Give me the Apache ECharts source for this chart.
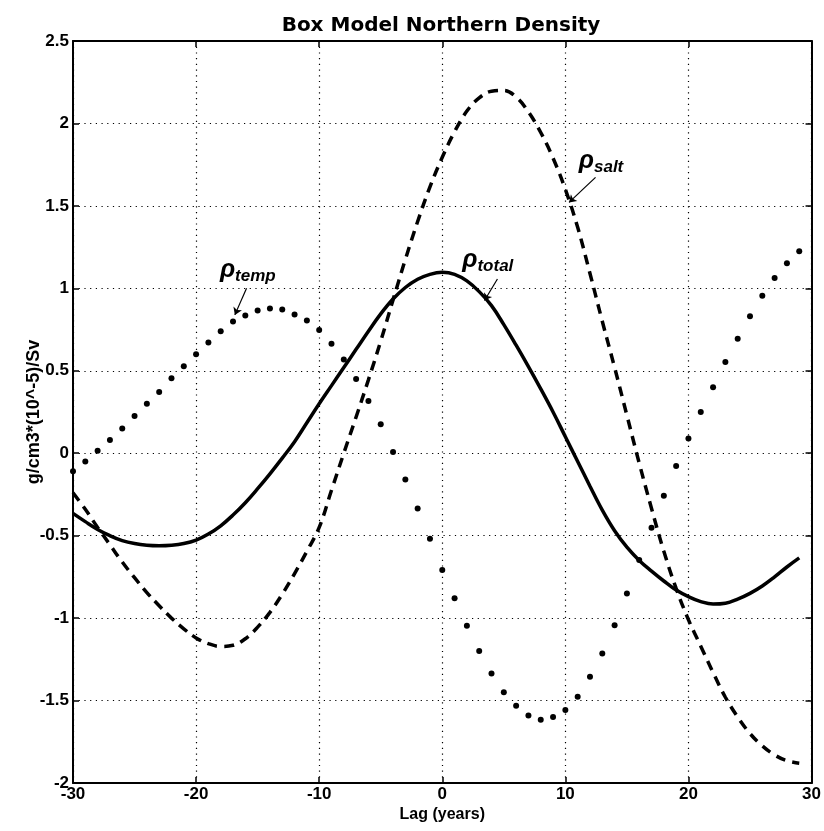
<!DOCTYPE html>
<html>
<head>
<meta charset="utf-8">
<script src="https://cdn.jsdelivr.net/npm/echarts@6/dist/echarts.min.js"></script>
<style>
html,body{margin:0;padding:0;background:#fff;}
#c{width:824px;height:831px;}
</style>
</head>
<body>
<div id="c"></div>
<script>
const lags = [-30,-29,-28,-27,-26,-25,-24,-23,-22,-21,-20,-19,-18,-17,-16,-15,-14,-13,-12,-11,-10,-9,-8,-7,-6,-5,-4,-3,-2,-1,0,1,2,3,4,5,6,7,8,9,10,11,12,13,14,15,16,17,18,19,20,21,22,23,24,25,26,27,28,29];

const rhoTotal = [-0.365,-0.415,-0.462,-0.50,-0.53,-0.548,-0.558,-0.561,-0.558,-0.548,-0.527,-0.49,-0.44,-0.375,-0.30,-0.215,-0.125,-0.03,0.07,0.185,0.30,0.41,0.52,0.63,0.74,0.845,0.935,1.005,1.055,1.085,1.097,1.085,1.045,0.98,0.895,0.78,0.655,0.525,0.39,0.25,0.10,-0.05,-0.20,-0.345,-0.47,-0.57,-0.65,-0.715,-0.775,-0.83,-0.87,-0.90,-0.915,-0.91,-0.885,-0.85,-0.805,-0.75,-0.69,-0.635];

const rhoSalt = [-0.24,-0.34,-0.45,-0.555,-0.66,-0.755,-0.845,-0.925,-1.0,-1.065,-1.12,-1.155,-1.172,-1.165,-1.125,-1.055,-0.965,-0.855,-0.73,-0.595,-0.45,-0.225,0.0,0.22,0.445,0.68,0.93,1.175,1.405,1.615,1.795,1.95,2.075,2.155,2.195,2.20,2.16,2.07,1.945,1.79,1.60,1.37,1.09,0.80,0.52,0.23,-0.06,-0.335,-0.595,-0.82,-1.01,-1.17,-1.33,-1.48,-1.60,-1.70,-1.775,-1.83,-1.865,-1.88];

const rhoTemp = [-0.11,-0.05,0.015,0.08,0.15,0.225,0.30,0.372,0.454,0.527,0.60,0.672,0.739,0.799,0.835,0.866,0.878,0.872,0.841,0.805,0.748,0.664,0.569,0.45,0.317,0.176,0.008,-0.159,-0.335,-0.519,-0.708,-0.88,-1.047,-1.20,-1.336,-1.449,-1.532,-1.59,-1.616,-1.60,-1.558,-1.477,-1.356,-1.215,-1.043,-0.85,-0.648,-0.452,-0.258,-0.078,0.09,0.25,0.40,0.553,0.694,0.83,0.955,1.063,1.152,1.225];

const xTicks = [-30,-20,-10,0,10,20,30];
const yTicks = [-2,-1.5,-1,-0.5,0,0.5,1,1.5,2,2.5];

const pairs = arr => lags.map((x,i)=>[x,arr[i]]);
const FONT = '"Liberation Sans", Arial, sans-serif';

const rich = {
  r:{fontFamily:FONT,fontSize:25,fontStyle:'italic',fontWeight:'bold',color:'#000',lineHeight:28},
  s:{fontFamily:FONT,fontSize:17,fontStyle:'italic',fontWeight:'bold',color:'#000',padding:[12,0,0,0],lineHeight:28}
};
function annot(coord,sub){
  return {coord:coord,symbol:'circle',symbolSize:2,itemStyle:{color:'rgba(0,0,0,0)'},
    label:{show:true,position:'inside',formatter:'{r|ρ}{s|'+sub+'}',rich:rich}};
}
function arrow(from,to){
  return [{coord:from},{coord:to}];
}
const arrowStyle = {color:'#000',width:1.2,type:'solid'};

const chart = echarts.init(document.getElementById('c'),null,{renderer:'canvas'});
const axisCommon = {
  axisLine:{show:true,onZero:false,lineStyle:{color:'#000',width:2}},
  axisTick:{show:true,inside:true,length:6,lineStyle:{color:'#000',width:1.5}},
};
chart.setOption({
  animation:false,
  backgroundColor:'#fff',
  title:{text:'Box Model Northern Density',left:436,top:11,textAlign:'center',
    textStyle:{fontFamily:'"DejaVu Sans", sans-serif',fontSize:20,fontWeight:'bold',color:'#000'}},
  grid:{left:73,right:9,top:41,bottom:48,containLabel:false},
  xAxis:[
    Object.assign({type:'value',min:-30,max:30,interval:10,position:'bottom',
      name:'Lag (years)',nameLocation:'middle',nameGap:24,nameMoveOverlap:false,
      nameTextStyle:{fontFamily:FONT,fontSize:16,fontWeight:'bold',color:'#000'},
      axisLabel:{fontFamily:FONT,fontSize:17,fontWeight:'bold',color:'#000',margin:3,
        formatter:v=>xTicks.includes(v)?String(v):''},
      splitLine:{show:true,lineStyle:{color:'#000',width:1.2,type:[1.2,4.5]}}},axisCommon),
    Object.assign({type:'value',min:-30,max:30,interval:10,position:'top',
      axisLabel:{show:false},splitLine:{show:false}},axisCommon)
  ],
  yAxis:[
    Object.assign({type:'value',min:-2,max:2.5,interval:0.5,position:'left',
      name:'g/cm3*(10^-5)/Sv',nameLocation:'middle',nameGap:30,nameMoveOverlap:false,
      nameTextStyle:{fontFamily:FONT,fontSize:18,fontWeight:'bold',color:'#000'},
      axisLabel:{fontFamily:FONT,fontSize:17,fontWeight:'bold',color:'#000',margin:4,
        formatter:v=>yTicks.includes(v)?String(v):''},
      splitLine:{show:true,lineStyle:{color:'#000',width:1.2,type:[1.2,4.5]}}},axisCommon),
    Object.assign({type:'value',min:-2,max:2.5,interval:0.5,position:'right',
      axisLabel:{show:false},splitLine:{show:false}},axisCommon)
  ],
  series:[
    {name:'rho_total',type:'line',data:pairs(rhoTotal),smooth:0.4,showSymbol:false,symbol:'none',
      lineStyle:{color:'#000',width:3.5,type:'solid'},
      markPoint:{silent:true,data:[annot([3.7,1.17],'total')]},
      markLine:{silent:true,symbol:['none','arrow'],symbolSize:7,lineStyle:arrowStyle,label:{show:false},
        data:[arrow([4.48,1.057],[3.43,0.926])]}},
    {name:'rho_salt',type:'line',data:pairs(rhoSalt),smooth:0.4,showSymbol:false,symbol:'none',
      lineStyle:{color:'#000',width:3.5,type:[10,7],cap:'butt'},
      markPoint:{silent:true,data:[annot([12.9,1.77],'salt')]},
      markLine:{silent:true,symbol:['none','arrow'],symbolSize:7,lineStyle:arrowStyle,label:{show:false},
        data:[arrow([12.45,1.673],[10.3,1.521])]}},
    {name:'rho_temp',type:'scatter',data:pairs(rhoTemp),symbol:'circle',symbolSize:6,
      itemStyle:{color:'#000',opacity:1},
      markPoint:{silent:true,data:[annot([-15.8,1.11],'temp')]},
      markLine:{silent:true,symbol:['none','arrow'],symbolSize:7,lineStyle:arrowStyle,label:{show:false},
        data:[arrow([-15.9,1.0],[-16.85,0.839])]}}
  ]
});
</script>
</body>
</html>
